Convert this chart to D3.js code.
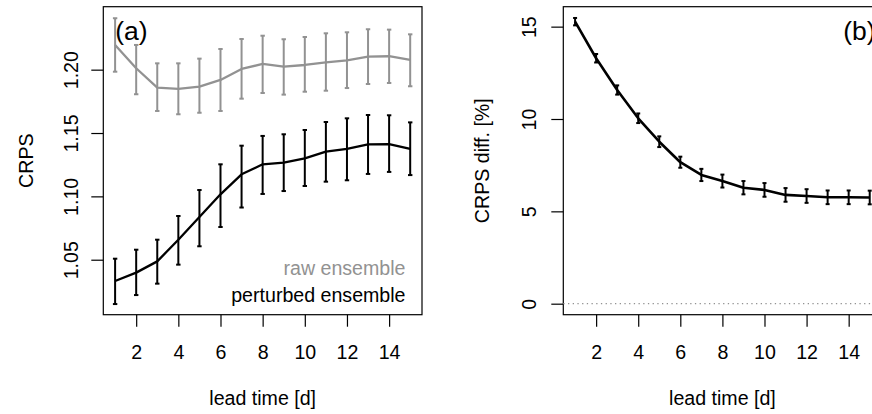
<!DOCTYPE html>
<html>
<head>
<meta charset="utf-8">
<script src="https://cdn.jsdelivr.net/npm/d3@7"></script>
<style>
  html, body { margin: 0; padding: 0; background: #fff; }
  svg { display: block; overflow: hidden; }
  text { font-family: "Liberation Sans", Arial, Helvetica, sans-serif; fill: #000; }
</style>
</head>
<body>
<svg id="chart" width="872" height="414"></svg>
<script>
// ---------------- data ----------------
const leadTime = [1, 2, 3, 4, 5, 6, 7, 8, 9, 10, 11, 12, 13, 14, 15];
const xTicks = [2, 4, 6, 8, 10, 12, 14];

// panel (a): CRPS
const rawMean = [1.2195, 1.2011, 1.1858, 1.1848, 1.1866, 1.1919, 1.2006, 1.2045, 1.2024, 1.2037, 1.2058, 1.2074, 1.2103, 1.2106, 1.2077];
const rawLo   = [1.1984, 1.1806, 1.1674, 1.1648, 1.1660, 1.1674, 1.1771, 1.1816, 1.1803, 1.1826, 1.1834, 1.1855, 1.1887, 1.1895, 1.1869];
const rawHi   = [1.2406, 1.2195, 1.2050, 1.2050, 1.2087, 1.2163, 1.2242, 1.2268, 1.2240, 1.2258, 1.2287, 1.2295, 1.2319, 1.2316, 1.2279];

const pertMean = [1.0332, 1.0398, 1.0487, 1.0658, 1.0837, 1.1016, 1.1174, 1.1253, 1.1266, 1.1300, 1.1353, 1.1374, 1.1411, 1.1413, 1.1374];
const pertLo   = [1.0150, 1.0221, 1.0311, 1.0461, 1.0606, 1.0758, 1.0912, 1.1019, 1.1042, 1.1082, 1.1116, 1.1127, 1.1177, 1.1193, 1.1168];
const pertHi   = [1.0508, 1.0579, 1.0658, 1.0845, 1.1050, 1.1253, 1.1400, 1.1477, 1.1490, 1.1524, 1.1587, 1.1616, 1.1642, 1.1640, 1.1584];

const aYTicks = [1.05, 1.10, 1.15, 1.20];
const aYTickLabels = ["1.05", "1.10", "1.15", "1.20"];

// panel (b): CRPS difference in %
const diffMean = [15.27, 13.29, 11.57, 10.04, 8.77, 7.66, 6.97, 6.64, 6.28, 6.16, 5.89, 5.83, 5.76, 5.76, 5.75];
const diffErr  = [0.20, 0.23, 0.25, 0.26, 0.29, 0.30, 0.33, 0.35, 0.36, 0.37, 0.37, 0.37, 0.37, 0.37, 0.37];
const bYTicks = [0, 5, 10, 15];

const legendLabels = ["raw ensemble", "perturbed ensemble"];

// ---------------- drawing ----------------
const svg = d3.select("#chart");
const GRAY = "#929292";
const FS = 19.6;

function panel(opts) {
  const g = svg.append("g");
  const x = d3.scaleLinear().domain([0.44, 15.56]).range([opts.left, opts.right]);
  const y = d3.scaleLinear().domain(opts.yDomain).range([opts.bottom, opts.top]);

  // x axis
  const xa = g.append("g")
    .attr("transform", `translate(0,${opts.bottom})`)
    .call(d3.axisBottom(x).tickValues(xTicks).tickSize(12).tickFormat(d3.format("d")));
  xa.select(".domain").remove();
  xa.selectAll(".tick line").attr("stroke", "#000").attr("stroke-width", 1.2);
  xa.selectAll(".tick text")
    .attr("y", 44).attr("dy", 0)
    .style("font-size", FS + "px").style("font-family", "Liberation Sans, Arial, sans-serif")
    .attr("fill", "#000");

  // y axis
  const ya = g.append("g")
    .attr("transform", `translate(${opts.left},0)`)
    .call(d3.axisLeft(y).tickValues(opts.yTicks).tickSize(12)
      .tickFormat((d, i) => opts.yLabels ? opts.yLabels[i] : d3.format("d")(d)));
  ya.select(".domain").remove();
  ya.selectAll(".tick line").attr("stroke", "#000").attr("stroke-width", 1.2);
  ya.selectAll(".tick text")
    .attr("x", null).attr("dy", 0)
    .attr("text-anchor", "middle")
    .attr("transform", `translate(${-opts.yLabelOff},0) rotate(-90)`)
    .style("font-size", FS + "px").style("font-family", "Liberation Sans, Arial, sans-serif")
    .attr("fill", "#000");

  // box
  g.append("rect")
    .attr("x", opts.left).attr("y", opts.top)
    .attr("width", opts.right - opts.left).attr("height", opts.bottom - opts.top)
    .attr("fill", "none").attr("stroke", "#000").attr("stroke-width", 1.2);

  // axis titles
  g.append("text")
    .attr("transform", `translate(${opts.yTitleX},${(opts.top + opts.bottom) / 2}) rotate(-90)`)
    .attr("text-anchor", "middle").style("font-size", FS + "px")
    .text(opts.yTitle);
  g.append("text")
    .attr("x", (opts.left + opts.right) / 2).attr("y", 405)
    .attr("text-anchor", "middle").style("font-size", FS + "px")
    .text("lead time [d]");

  return { g, x, y };
}

function errorSeries(p, means, lo, hi, color, lineW, barW, cap) {
  const line = d3.line().x((d, i) => p.x(leadTime[i])).y(d => p.y(d));
  p.g.append("path").datum(means)
    .attr("d", line).attr("fill", "none")
    .attr("stroke", color).attr("stroke-width", lineW)
    .attr("stroke-linejoin", "round");
  const bars = p.g.append("g").attr("stroke", color).attr("stroke-width", barW);
  leadTime.forEach((t, i) => {
    const cx = p.x(t);
    bars.append("line").attr("x1", cx).attr("x2", cx).attr("y1", p.y(lo[i])).attr("y2", p.y(hi[i]));
    bars.append("line").attr("x1", cx - cap).attr("x2", cx + cap).attr("y1", p.y(lo[i])).attr("y2", p.y(lo[i]));
    bars.append("line").attr("x1", cx - cap).attr("x2", cx + cap).attr("y1", p.y(hi[i])).attr("y2", p.y(hi[i]));
  });
}

// ---- panel (a)
const pa = panel({
  left: 103.3, right: 422, top: 6.7, bottom: 314.7,
  yDomain: [1.0066, 1.2497], yTicks: aYTicks, yLabels: aYTickLabels,
  yLabelOff: 25, yTitleX: 33.3, yTitle: "CRPS"
});
errorSeries(pa, rawMean, rawLo, rawHi, GRAY, 2.3, 2, 2.2);
errorSeries(pa, pertMean, pertLo, pertHi, "#000", 2.3, 2, 2.2);
pa.g.append("text").attr("x", 115.3).attr("y", 40)
  .style("font-size", "26.5px").text("(a)");
pa.g.append("text").attr("x", 405.5).attr("y", 275)
  .attr("text-anchor", "end").style("font-size", FS + "px")
  .style("fill", GRAY).text(legendLabels[0]);
pa.g.append("text").attr("x", 405.5).attr("y", 302)
  .attr("text-anchor", "end").style("font-size", FS + "px")
  .text(legendLabels[1]);

// ---- panel (b)
const pb = panel({
  left: 563.3, right: 881.5, top: 6.7, bottom: 314.7,
  yDomain: [-0.596, 16.08], yTicks: bYTicks, yLabels: null,
  yLabelOff: 27.3, yTitleX: 488.7, yTitle: "CRPS diff. [%]"
});
pb.g.append("line")
  .attr("x1", pb.x.range()[0]).attr("x2", pb.x.range()[1])
  .attr("y1", pb.y(0)).attr("y2", pb.y(0))
  .attr("stroke", GRAY).attr("stroke-width", 1.2).attr("stroke-dasharray", "1.3,3.4");
errorSeries(pb, diffMean,
  diffMean.map((m, i) => m - diffErr[i]),
  diffMean.map((m, i) => m + diffErr[i]),
  "#000", 2.6, 2, 2);
pb.g.append("text").attr("x", 843.3).attr("y", 40)
  .style("font-size", "26.5px").text("(b)");
</script>
</body>
</html>
